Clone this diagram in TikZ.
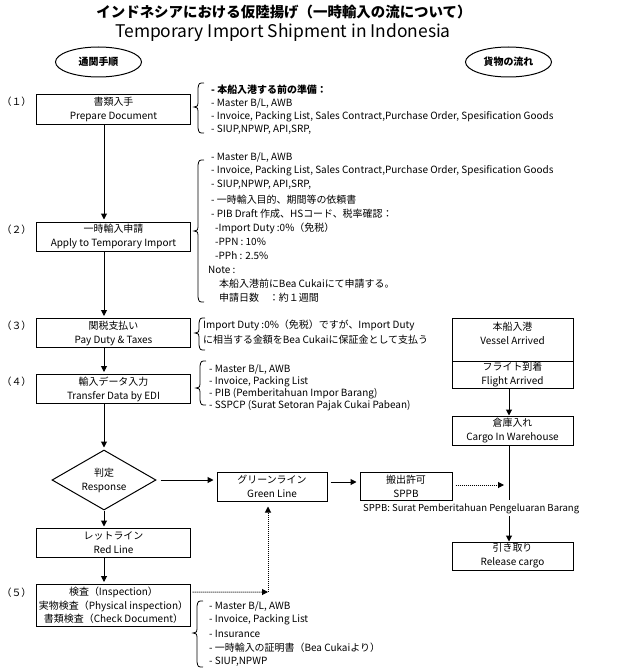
\documentclass[tikz,border=0pt]{standalone}
\usepackage{fontspec}
\setmainfont{Noto Sans CJK JP}
\usetikzlibrary{arrows.meta,shapes.geometric}
\newcommand\mybrace[4]{%
  \draw[line width=0.8bp] (#1+6,#2) .. controls (#1+1,#2) .. (#1,#2+5) -- (#1,#3-4)
    .. controls (#1,#3-1) .. (#1-4,#3) .. controls (#1,#3+1) .. (#1,#3+4)
    -- (#1,#4-5) .. controls (#1+1,#4) .. (#1+6,#4);}
\begin{document}
\begin{tikzpicture}[x=1bp,y=-1bp,
  box/.style={draw, line width=1bp, minimum width=153bp, minimum height=29bp, inner sep=0pt,
    align=center, font=\fontsize{10}{14}\selectfont},
  lbl/.style={inner sep=0pt, align=center, font=\fontsize{10}{14}\selectfont},
  txt/.style={anchor=west, inner sep=0pt, font=\fontsize{10}{12}\selectfont},
  arr/.style={-{Triangle[length=6bp,width=6bp]}, line width=1bp},
  dotarr/.style={arr, dash pattern=on 1bp off 1bp},
  oval/.style={draw, ellipse, line width=1bp, minimum width=86bp, minimum height=30bp, inner sep=0pt,
    font=\fontsize{10}{12}\selectfont\bfseries}
]
\useasboundingbox (0,0) rectangle (629,669);

% titles
\node[lbl, font=\fontsize{14.5}{16}\selectfont\bfseries] (t1) at (284,12) {インドネシアにおける仮陸揚げ（一時輸入の流について）};
\node[lbl, font=\fontsize{17.5}{19}\selectfont] (t2) at (283,33) {Temporary Import Shipment in Indonesia};

\node[oval] (e1) at (98.5,62) {通関手順};
\node[oval] (e2) at (508.5,62) {貨物の流れ};

% left column
\node[box] (b1) at (113.5,109.5) {書類入手\\Prepare Document};
\node[box] (b2) at (113.5,236.5) {一時輸入申請\\Apply to Temporary Import};
\node[box] (b3) at (113.5,333) {関税支払い\\Pay Duty \& Taxes};
\node[box] (b4) at (113.5,389) {輸入データ入力\\Transfer Data by EDI};
\node[draw, diamond, line width=1bp, minimum width=104bp, minimum height=60bp, aspect=1.7, inner sep=0pt,
  align=center, font=\fontsize{10}{14}\selectfont] (dia) at (104,480) {判定\\Response};
\node[box] (red) at (113.5,542.5) {レットライン\\Red Line};
\node[box, minimum height=42bp, font=\fontsize{10}{13.5}\selectfont] (b5) at (113.5,605.5)
  {検査（Inspection）\\実物検査（Physical inspection）\\書類検査（Check Document）};

\node[lbl] (l1) at (16.5,102) {（１）};
\node[lbl] (l2) at (16.5,229.5) {（２）};
\node[lbl] (l3) at (16.5,325.5) {（３）};
\node[lbl] (l4) at (16.5,382) {（４）};
\node[lbl] (l5) at (16.5,593) {（５）};

% middle
\node[box, minimum width=110bp] (green) at (272,486.5) {グリーンライン\\Green Line};
\node[box, minimum width=92bp, minimum height=28bp] (sppb) at (406,486) {搬出許可\\SPPB};
\node[txt, font=\fontsize{9.6}{12}\selectfont] (sppbt) at (363,509) {SPPB: Surat Pemberitahuan Pengeluaran Barang};

% right column
\node[draw, line width=1bp, minimum width=121bp, minimum height=43bp, inner sep=0pt] (ves) at (512.5,339.5) {};
\node[lbl] (vest) at (512.5,333.5) {本船入港\\Vessel Arrived};
\node[box, minimum width=121bp, minimum height=27bp] (fli) at (512.5,374.5) {フライト到着\\Flight Arrived};
\node[box, minimum width=121bp] (ware) at (512.5,430.5) {倉庫入れ\\Cargo In Warehouse};
\node[box, minimum width=121bp, minimum height=28bp] (rel) at (512.5,556) {引き取り\\Release cargo};

% connectors
\draw[arr] (b1.south -| dia.north) -- ([yshift=2bp]b2.north -| dia.north);
\draw[arr] (b2.south -| dia.north) -- ([yshift=2bp]b3.north -| dia.north);
\draw[arr] (b3.south -| dia.north) -- ([yshift=2bp]b4.north -| dia.north);
\draw[arr] (b4.south -| dia.north) -- ([yshift=2bp]dia.north);
\draw[arr] (dia.south) -- ([yshift=1bp]red.north -| dia.south);
\draw[arr] (red.south -| dia.north) -- ([yshift=2bp]b5.north -| dia.north);
\draw[arr] ([xshift=4bp]dia.east) -- ([xshift=-3bp]green.west |- dia.east);
\draw[arr] ([xshift=3bp,yshift=4.5bp]green.east) -- ([xshift=-3bp,yshift=4bp]sppb.west);

\coordinate (cv1) at (509,500);
\coordinate (cv2) at (509,516);
\coordinate (sp) at (504,485);
\coordinate (corner) at (268,592);
\draw[arr] (fli.south -| cv1) -- (ware.north -| cv1);
\draw[line width=1bp] (ware.south -| cv1) -- (cv1);
\draw[arr] (cv2) -- (rel.north -| cv2);
\draw[dotarr] ([xshift=3bp,yshift=1bp]sppb.east) -- (sp);
\draw[dotarr] ([xshift=2bp,yshift=13.5bp]b5.east) -- (corner);
\draw[dotarr] (corner) -- ([yshift=-5bp]green.south -| corner);

% braces
\mybrace{198}{83}{107}{133}
\mybrace{198}{160}{231}{302}
\mybrace{199}{318}{333}{350}
\mybrace{200}{361}{388}{405}
\mybrace{197}{601}{633}{667}

% bracket texts
\node[txt, font=\fontsize{10}{12}\selectfont\bfseries] (a1) at (211,90) {- 本船入港する前の準備：};
\node[txt] (a2) at (211,103) {- Master B/L, AWB};
\node[txt] (a3) at (211,117) {- Invoice, Packing List, Sales Contract,Purchase Order, Spesification Goods};
\node[txt] (a4) at (211,130) {- SIUP,NPWP, API,SRP,};

\node[txt] (c1) at (211,157) {- Master B/L, AWB};
\node[txt] (c2) at (211,171) {- Invoice, Packing List, Sales Contract,Purchase Order, Spesification Goods};
\node[txt] (c3) at (211,185) {- SIUP,NPWP, API,SRP,};
\node[txt] (c4) at (211,199.5) {- 一時輸入目的、期間等の依頼書};
\node[txt] (c5) at (211,213.5) {- PIB Draft 作成、HSコード、税率確認：};
\node[txt] (c6) at (215,228) {-Import Duty :0\%（免税）};
\node[txt] (c7) at (215,242) {-PPN : 10\%};
\node[txt] (c8) at (215,256) {-PPh : 2.5\%};
\node[txt] (c9) at (208,270) {Note :};
\node[txt] (c10) at (219,284) {本船入港前にBea Cukaiにて申請する。};
\node[txt] (c11) at (219,298) {申請日数　：約１週間};

\node[txt] (d1) at (203,325) {Import Duty :0\%（免税）ですが、Import Duty};
\node[txt] (d2) at (203,340) {に相当する金額をBea Cukaiに保証金として支払う};

\node[txt] (f1) at (209,369) {- Master B/L, AWB};
\node[txt] (f2) at (209,381.5) {- Invoice, Packing List};
\node[txt] (f3) at (209,394) {- PIB (Pemberitahuan Impor Barang)};
\node[txt] (f4) at (209,406) {- SSPCP (Surat Setoran Pajak Cukai Pabean)};

\node[txt] (g1) at (209,606) {- Master B/L, AWB};
\node[txt] (g2) at (209,620) {- Invoice, Packing List};
\node[txt] (g3) at (209,633.5) {- Insurance};
\node[txt] (g4) at (209,648) {- 一時輸入の証明書（Bea Cukaiより）};
\node[txt] (g5) at (209,662) {- SIUP,NPWP};
\end{tikzpicture}
\end{document}
